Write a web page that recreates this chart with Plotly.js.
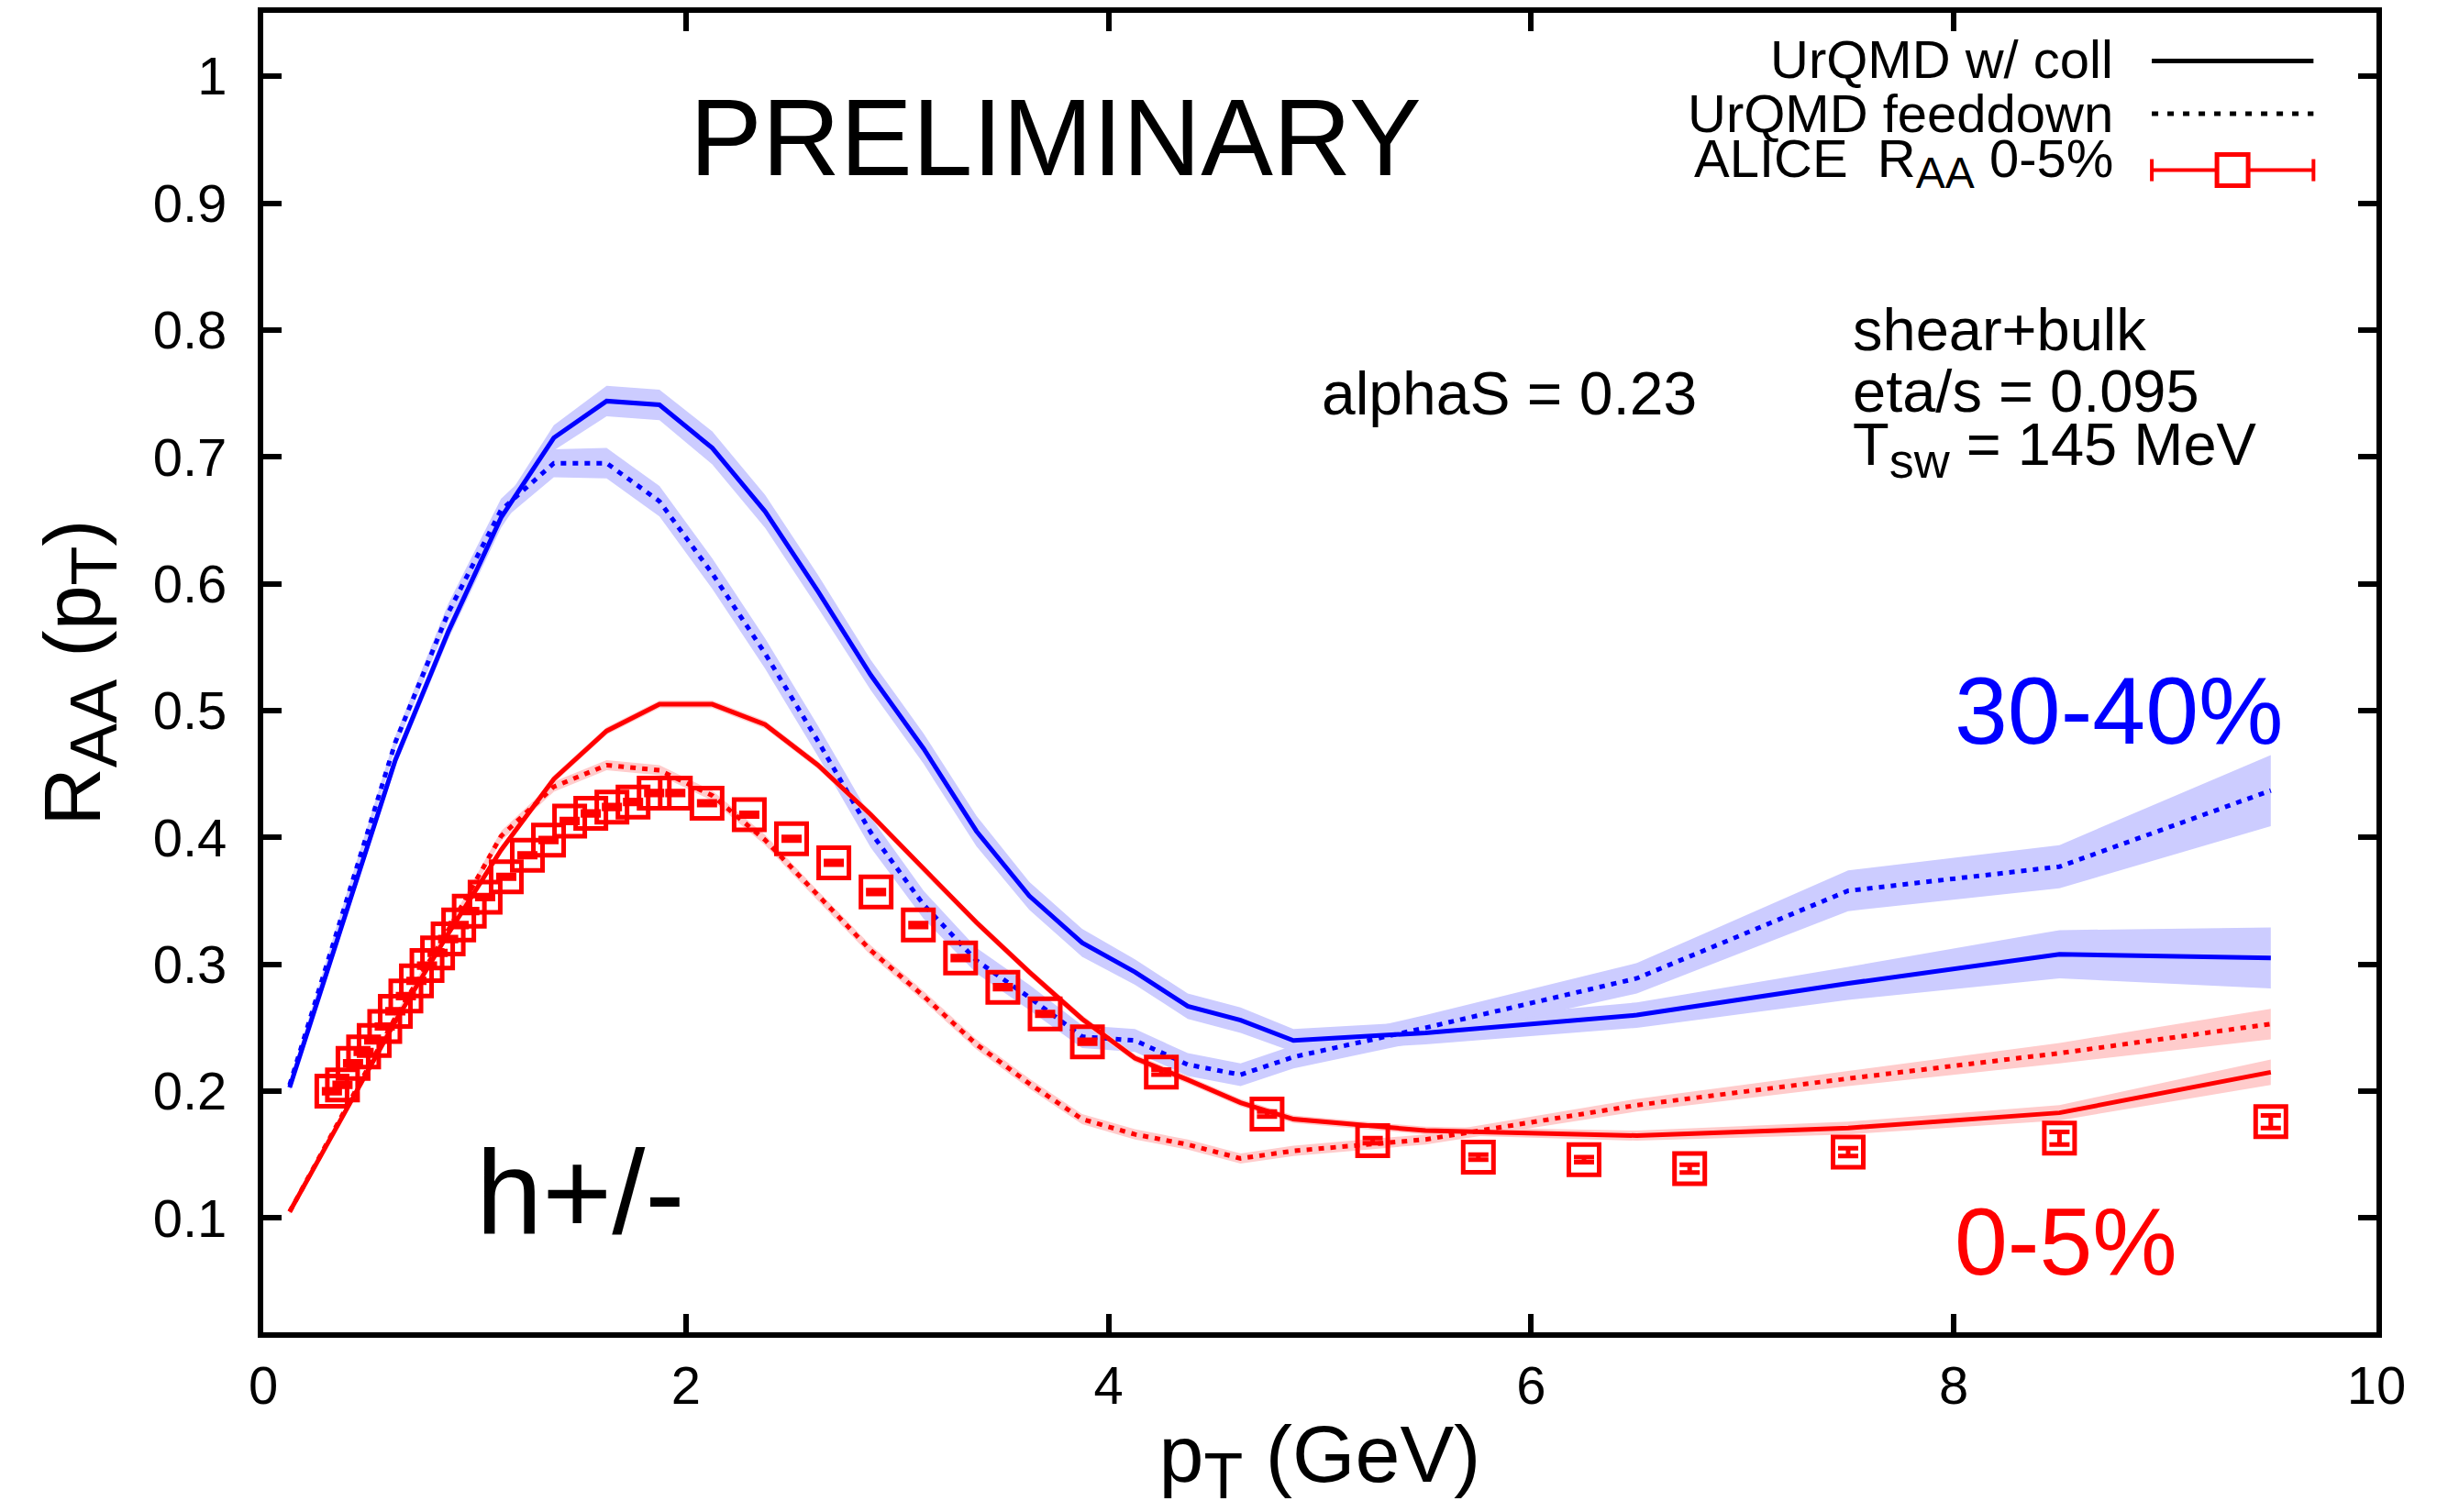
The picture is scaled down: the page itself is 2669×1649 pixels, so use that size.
<!DOCTYPE html>
<html><head><meta charset="utf-8">
<script src="https://cdn.plot.ly/plotly-3.0.1.min.js"></script>
<style>html,body{margin:0;padding:0;background:#fff}</style>
</head><body><div id="chart" style="width:2669px;height:1649px"></div>
<script>
// ---- data ----
const pt_model = [0.125,0.375,0.625,0.875,1.125,1.375,1.625,1.875,2.125,2.375,2.625,2.875,3.125,3.375,3.625,3.875,4.125,4.375,4.625,4.875,5.5,6.5,7.5,8.5,9.5];

const raa_3040_coll = [0.203,0.332,0.461,0.562,0.652,0.715,0.744,0.741,0.707,0.657,0.594,0.528,0.470,0.405,0.354,0.317,0.294,0.267,0.256,0.240,0.246,0.260,0.285,0.308,0.305];
const err_3040_coll = [0.003,0.004,0.005,0.006,0.008,0.010,0.012,0.012,0.013,0.013,0.013,0.012,0.012,0.012,0.011,0.011,0.010,0.010,0.010,0.009,0.009,0.010,0.013,0.019,0.024];

const raa_3040_fd = [0.205,0.341,0.475,0.577,0.658,0.695,0.695,0.665,0.608,0.545,0.476,0.404,0.347,0.303,0.274,0.243,0.240,0.221,0.213,0.227,0.250,0.289,0.358,0.377,0.437];
const err_3040_fd = [0.003,0.004,0.005,0.007,0.009,0.011,0.012,0.012,0.012,0.012,0.012,0.012,0.011,0.010,0.010,0.009,0.009,0.009,0.009,0.009,0.010,0.012,0.016,0.017,0.028];

const raa_0005_coll = [0.105,0.180,0.255,0.324,0.390,0.446,0.484,0.505,0.505,0.489,0.457,0.418,0.375,0.333,0.294,0.257,0.226,0.209,0.191,0.178,0.169,0.165,0.171,0.183,0.215];
const err_0005_coll = [0.002,0.002,0.002,0.002,0.003,0.003,0.003,0.003,0.003,0.003,0.003,0.003,0.003,0.003,0.003,0.003,0.003,0.003,0.003,0.003,0.003,0.004,0.005,0.006,0.010];

const raa_0005_fd = [0.105,0.181,0.258,0.327,0.401,0.440,0.457,0.453,0.433,0.398,0.354,0.311,0.275,0.237,0.206,0.178,0.166,0.158,0.147,0.153,0.162,0.189,0.210,0.230,0.253];
const err_0005_fd = [0.002,0.002,0.003,0.003,0.004,0.004,0.004,0.004,0.004,0.004,0.004,0.004,0.004,0.004,0.004,0.004,0.004,0.004,0.004,0.004,0.004,0.005,0.006,0.008,0.012];

const pt_alice = [0.325,0.375,0.425,0.475,0.525,0.575,0.625,0.675,0.725,0.775,0.825,0.875,0.925,0.975,1.05,1.15,1.25,1.35,1.45,1.55,1.65,1.75,1.85,1.95,2.1,2.3,2.5,2.7,2.9,3.1,3.3,3.5,3.7,3.9,4.25,4.75,5.25,5.75,6.25,6.75,7.5,8.5,9.5];
const raa_alice = [0.200,0.205,0.222,0.231,0.240,0.251,0.263,0.275,0.287,0.299,0.309,0.320,0.331,0.342,0.353,0.369,0.386,0.398,0.413,0.419,0.424,0.428,0.435,0.435,0.427,0.418,0.399,0.380,0.357,0.331,0.305,0.282,0.261,0.239,0.215,0.182,0.161,0.148,0.146,0.139,0.152,0.163,0.176];
const stat_alice = [0.0015,0.0015,0.0015,0.0015,0.0015,0.0015,0.0015,0.0015,0.0015,0.0015,0.0015,0.0015,0.0015,0.0015,0.0015,0.0015,0.0015,0.0015,0.0015,0.0015,0.0015,0.0015,0.0015,0.0015,0.0015,0.0015,0.0015,0.0015,0.0015,0.0015,0.0015,0.0015,0.0015,0.0015,0.002,0.002,0.002,0.002,0.002,0.003,0.003,0.005,0.005];

const xTickVals = [0,2,4,6,8,10];
const yTickVals = [0.1,0.2,0.3,0.4,0.5,0.6,0.7,0.8,0.9,1.0];
const yTickText = ['0.1','0.2','0.3','0.4','0.5','0.6','0.7','0.8','0.9','1'];

// ---- styles ----
const FONT = 'Liberation Sans, Arial, Helvetica, sans-serif';
const BLUE = '#0000ff', RED = '#ff0000';
const BLUE_BAND = 'rgb(204,204,255)', RED_BAND = 'rgb(255,204,204)';
const DOT = '6px,7px';
const sub = (t, px) => '<sub><span style="font-size:' + px + 'px">' + t + '</span></sub>';

function band(x, y, e, color, name) {
  const up = y.map((v, i) => v + e[i]);
  const lo = y.map((v, i) => v - e[i]);
  return {
    x: x.concat(x.slice().reverse()),
    y: up.concat(lo.slice().reverse()),
    type: 'scatter', mode: 'lines', fill: 'toself',
    fillcolor: color, line: {width: 0, color: color},
    hoverinfo: 'skip', showlegend: false, name: name
  };
}
function curve(x, y, color, dash, name) {
  return {x: x, y: y, type: 'scatter', mode: 'lines', name: name,
    line: {color: color, width: 5, dash: dash}, showlegend: false};
}

const traces = [
  band(pt_model, raa_3040_coll, err_3040_coll, BLUE_BAND, '30-40% w/ coll band'),
  band(pt_model, raa_3040_fd, err_3040_fd, BLUE_BAND, '30-40% feeddown band'),
  band(pt_model, raa_0005_coll, err_0005_coll, RED_BAND, '0-5% w/ coll band'),
  band(pt_model, raa_0005_fd, err_0005_fd, RED_BAND, '0-5% feeddown band'),
  curve(pt_model, raa_3040_coll, BLUE, 'solid', 'UrQMD w/ coll 30-40%'),
  curve(pt_model, raa_3040_fd, BLUE, DOT, 'UrQMD feeddown 30-40%'),
  curve(pt_model, raa_0005_coll, RED, 'solid', 'UrQMD w/ coll 0-5%'),
  curve(pt_model, raa_0005_fd, RED, DOT, 'UrQMD feeddown 0-5%'),
  {x: pt_alice, y: raa_alice, type: 'scatter', mode: 'markers', name: 'ALICE RAA 0-5%',
   marker: {symbol: 'square-open', size: 33, color: RED, line: {color: RED, width: 5}},
   error_y: {type: 'data', array: stat_alice, visible: true, color: RED, thickness: 5, width: 11},
   showlegend: false}
];

const axisCommon = {
  showline: true, linecolor: '#000', linewidth: 6, mirror: 'ticks',
  ticks: 'inside', ticklen: 20, tickwidth: 6, tickcolor: '#000',
  showgrid: false, zeroline: false,
  tickfont: {family: FONT, size: 58, color: '#000'}
};

const legendRows = [
  {text: 'UrQMD w/ coll', y: 1.0134, ly: 1.012},
  {text: 'UrQMD feeddown', y: 0.9708, ly: 0.9705},
  {text: 'ALICE  R' + sub('AA', 48) + ' 0-5%', y: 0.9318, ly: 0.926}
];
const LX0 = 8.937, LX1 = 9.702, LTX = 8.764, LSQ = 9.319;

const annotations = [
  {x: 3.748, y: 0.952, text: 'PRELIMINARY', font: {size: 118}},
  {x: 5.0, y: 0.7503, text: 'alphaS = 0.23', xanchor: 'left', font: {size: 66}},
  {x: 7.512, y: 0.8003, text: 'shear+bulk', xanchor: 'left', font: {size: 65}},
  {x: 7.512, y: 0.7518, text: 'eta/s = 0.095', xanchor: 'left', font: {size: 65}},
  {x: 7.512, y: 0.7062, text: 'T' + sub('sw', 54) + ' = 145 MeV', xanchor: 'left', font: {size: 65}},
  {x: 7.995, y: 0.4999, text: '30-40%', xanchor: 'left', font: {size: 104, color: BLUE}},
  {x: 7.995, y: 0.0816, text: '0-5%', xanchor: 'left', font: {size: 104, color: RED}},
  {x: 1.0, y: 0.1205, text: 'h+/-', xanchor: 'left', font: {size: 130}}
].concat(legendRows.map(r => ({x: LTX, y: r.y, text: r.text, xanchor: 'right', font: {size: 58}})))
 .map(a => Object.assign({xref: 'x', yref: 'y', showarrow: false, xanchor: 'center', yanchor: 'middle'}, a,
   {font: Object.assign({family: FONT, color: '#000'}, a.font)}));

const shapes = [
  {type: 'line', xref: 'x', yref: 'y', x0: LX0, x1: LX1, y0: legendRows[0].ly, y1: legendRows[0].ly, line: {color: '#000', width: 5}},
  {type: 'line', xref: 'x', yref: 'y', x0: LX0, x1: LX1, y0: legendRows[1].ly, y1: legendRows[1].ly, line: {color: '#000', width: 5, dash: '7px,10px'}},
  {type: 'line', xref: 'x', yref: 'y', x0: LX0, x1: LX1, y0: legendRows[2].ly, y1: legendRows[2].ly, line: {color: RED, width: 4}},
  {type: 'line', xref: 'x', yref: 'y', x0: LX0, x1: LX0, y0: legendRows[2].ly - 0.0087, y1: legendRows[2].ly + 0.0087, line: {color: RED, width: 4}},
  {type: 'line', xref: 'x', yref: 'y', x0: LX1, x1: LX1, y0: legendRows[2].ly - 0.0087, y1: legendRows[2].ly + 0.0087, line: {color: RED, width: 4}},
  {type: 'rect', xref: 'x', yref: 'y', xsizemode: 'pixel', ysizemode: 'pixel', xanchor: LSQ, yanchor: legendRows[2].ly,
   x0: -17, x1: 17, y0: -17, y1: 17, fillcolor: '#fff', line: {color: RED, width: 5}}
];

const layout = {
  width: 2669, height: 1649,
  margin: {l: 287, r: 78, t: 14, b: 196, pad: 0},
  paper_bgcolor: '#fff', plot_bgcolor: '#fff',
  font: {family: FONT, color: '#000'},
  showlegend: false,
  xaxis: Object.assign({}, axisCommon, {
    range: [0, 10], tickvals: xTickVals, ticklabelstandoff: 2,
    title: {text: 'p' + sub('T', 70) + ' (GeV)', font: {family: FONT, size: 88, color: '#000'}, standoff: 38}
  }),
  yaxis: Object.assign({}, axisCommon, {
    range: [0.01, 1.05], tickvals: yTickVals, ticktext: yTickText, ticklabelstandoff: 22,
    title: {text: 'R' + sub('AA', 72) + ' (p' + sub('T', 70) + ')', font: {family: FONT, size: 88, color: '#000'}, standoff: 30}
  }),
  annotations: annotations,
  shapes: shapes
};

Plotly.newPlot('chart', traces, layout, {staticPlot: true, displayModeBar: false});
</script></body></html>
